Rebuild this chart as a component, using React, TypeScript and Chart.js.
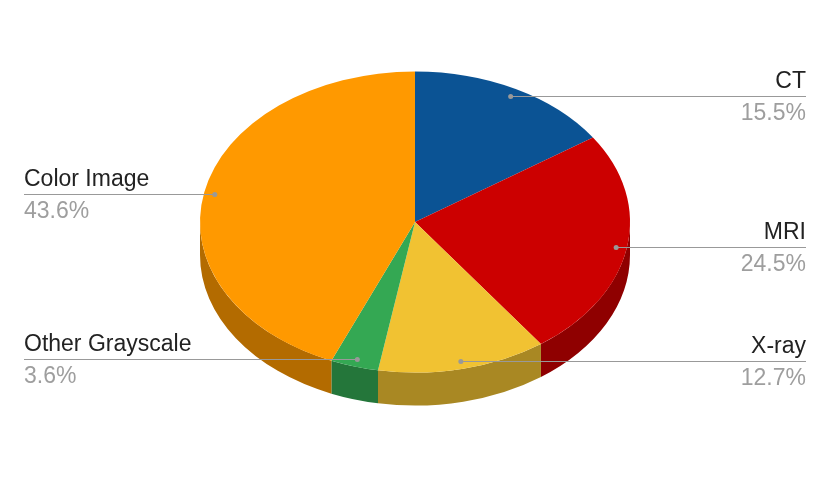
import React, { useEffect, useRef } from "react";
import { Chart, registerables } from "chart.js";

Chart.register(...registerables);

const categories = ["CT", "MRI", "X-ray", "Other Grayscale", "Color Image"];
const values = [15.5, 24.5, 12.7, 3.6, 43.6];
const topColors = ["#0b5394", "#cc0000", "#f1c232", "#34a853", "#ff9900"];
const sideColors = ["#083a68", "#8f0000", "#a98823", "#24763a", "#b36b00"];

const W = 830;
const H = 479;
const CX = 415;
const CY = 222;
const R = 215;
const K = 0.7;
const DEPTH = 33;
const FONT = '23px "Liberation Sans", Arial, sans-serif';

export default function App() {
  const ref = useRef<HTMLCanvasElement | null>(null);

  useEffect(() => {
    document.body.style.margin = "0";
    const canvas = ref.current;
    if (!canvas) return;

    const tiltPlugin = {
      id: "tilt3d",
      beforeDatasetsDraw(chart: any) {
        const ctx = chart.ctx;
        const meta = chart.getDatasetMeta(0);
        const arcs = meta.data;
        arcs.forEach((arc: any, i: number) => {
          const s = arc.startAngle;
          const e = arc.endAngle;
          const a = Math.max(s, 0);
          const b = Math.min(e, Math.PI);
          if (b <= a) return;
          ctx.save();
          ctx.beginPath();
          ctx.ellipse(CX, CY, R, R * K, 0, a, b, false);
          ctx.ellipse(CX, CY + DEPTH, R, R * K, 0, b, a, true);
          ctx.closePath();
          ctx.fillStyle = sideColors[i];
          ctx.fill();
          ctx.restore();
        });
        const yc = arcs.length ? arcs[0].y : CY;
        ctx.save();
        ctx.translate(0, CY - K * yc);
        ctx.scale(1, K);
      },
      afterDatasetsDraw(chart: any) {
        chart.ctx.restore();
      },
      afterDraw(chart: any) {
        const ctx = chart.ctx;
        const meta = chart.getDatasetMeta(0);
        const total = values.reduce((p, c) => p + c, 0);
        meta.data.forEach((arc: any, i: number) => {
          const m = (arc.startAngle + arc.endAngle) / 2;
          const dx = CX + 0.95 * R * Math.cos(m);
          const dy = CY + 0.95 * R * K * Math.sin(m);
          const right = Math.cos(m) > 0;
          const x0 = right ? dx : 24;
          const x1 = right ? 806 : dx;
          const ly = Math.round(dy) + 0.5;
          ctx.save();
          ctx.strokeStyle = "#999999";
          ctx.lineWidth = 1;
          ctx.beginPath();
          ctx.moveTo(x0, ly);
          ctx.lineTo(x1, ly);
          ctx.stroke();
          ctx.fillStyle = "#999999";
          ctx.beginPath();
          ctx.arc(dx, ly, 2.5, 0, Math.PI * 2);
          ctx.fill();
          ctx.font = FONT;
          ctx.textAlign = right ? "right" : "left";
          ctx.textBaseline = "alphabetic";
          const tx = right ? 806 : 24;
          ctx.fillStyle = "#222222";
          ctx.fillText(categories[i], tx, Math.round(dy) - 8);
          ctx.fillStyle = "#9e9e9e";
          const pct = ((values[i] / total) * 100).toFixed(1) + "%";
          ctx.fillText(pct, tx, Math.round(dy) + 24);
          ctx.restore();
        });
      },
    };

    const chart = new Chart(canvas, {
      type: "pie",
      data: {
        labels: categories,
        datasets: [
          {
            data: values,
            backgroundColor: topColors,
            borderWidth: 0,
            hoverOffset: 0,
            clip: false as any,
          },
        ],
      },
      options: {
        responsive: false,
        animation: false,
        radius: R,
        layout: { padding: { left: 200, right: 200, top: 24, bottom: 25 } },
        plugins: {
          legend: { display: false },
          tooltip: { enabled: false },
        },
        events: [],
      } as any,
      plugins: [tiltPlugin],
    });

    return () => chart.destroy();
  }, []);

  return (
    <div style={{ width: W, height: H, background: "#ffffff" }}>
      <canvas ref={ref} width={W} height={H} style={{ display: "block" }} />
    </div>
  );
}
